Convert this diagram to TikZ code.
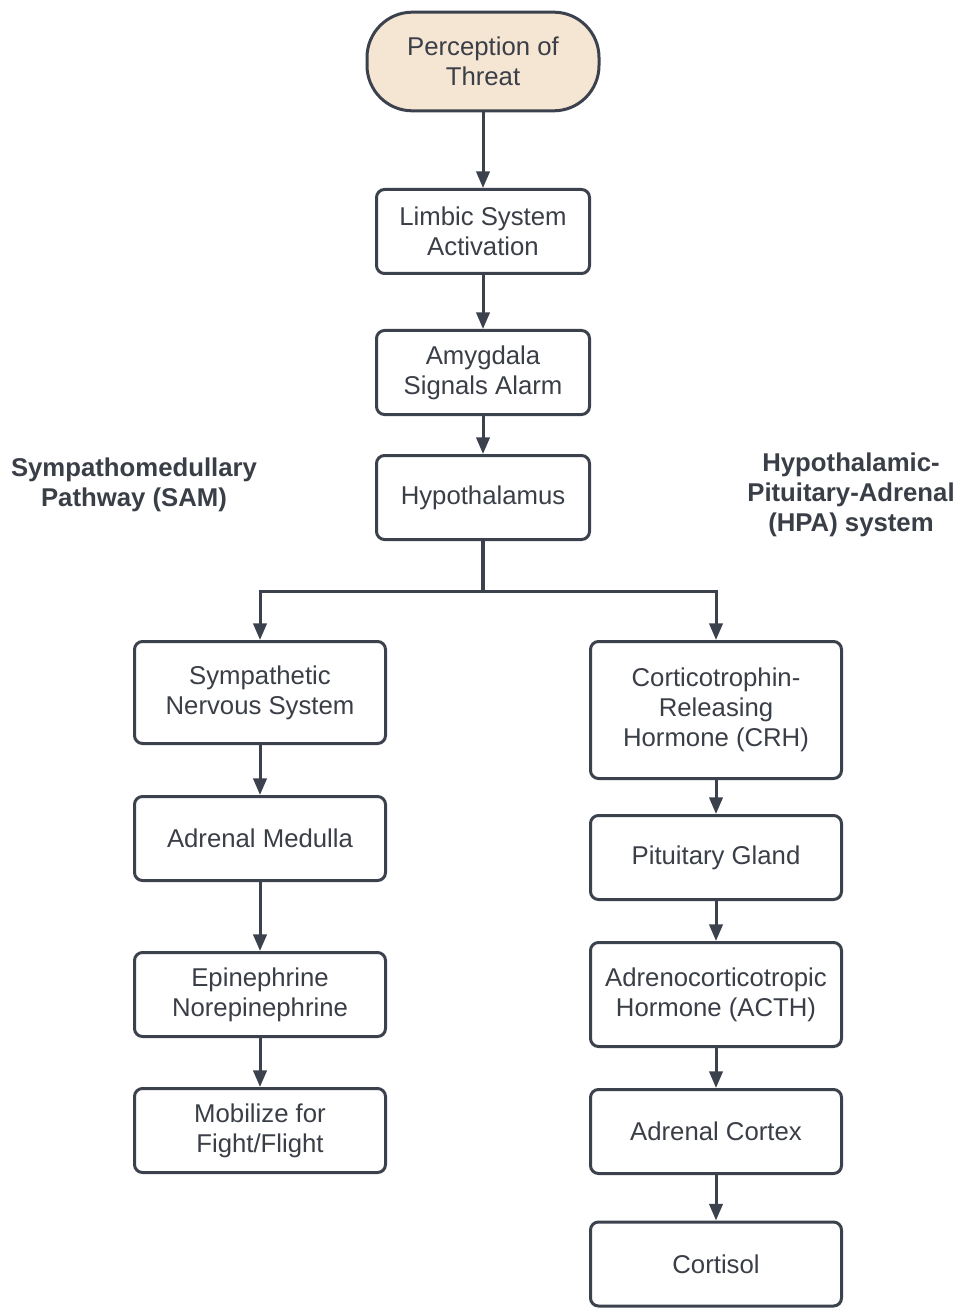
\documentclass[tikz,border=0pt]{standalone}
\usepackage{fontspec}
\setmainfont{Liberation Sans}
\usetikzlibrary{arrows.meta}
\definecolor{edge}{RGB}{60,66,77}
\definecolor{ink}{RGB}{58,62,70}
\definecolor{threat}{RGB}{245,229,211}
\begin{document}
\begin{tikzpicture}[x=0.75pt,y=-0.75pt,
  box/.style={draw=edge, line width=2.25pt, rounded corners=6pt, fill=white,
    text=ink, align=center, inner sep=0pt,
    font=\fontsize{19.3}{22.5}\selectfont},
  narrow/.style={box, minimum width=159.75pt},
  wide/.style={box, minimum width=188.25pt},
  flow/.style={draw=edge, line width=2.25pt, -{Triangle[length=12.5pt,width=10pt]}},
  group/.style={text=ink, align=center, inner sep=0pt,
    font=\bfseries\fontsize{19.3}{22.5}\selectfont}]
\useasboundingbox (0,0) rectangle (962,1308);

% central chain
\node[box, fill=threat, minimum width=174pt, minimum height=74pt,
  rounded corners=34pt] (threat) at (483,61.5) {Perception of\\Threat};
\node[narrow, minimum height=63pt] (limbic) at (483,231.5) {Limbic System\\Activation};
\node[narrow, minimum height=63pt] (amyg) at (483,372.5) {Amygdala\\Signals Alarm};
\node[narrow, minimum height=63pt] (hypo) at (483,497.5) {Hypothalamus};

% pathway titles
\node[group] (sam) at (134,485) {Sympathomedullary\\Pathway (SAM)};
\node[group] (hpa) at (851,495) {Hypothalamic-\\Pituitary-Adrenal\\(HPA) system};

% sympathomedullary branch
\node[wide, minimum height=76.5pt] (sns) at (260,692.5) {Sympathetic\\Nervous System};
\node[wide, minimum height=63pt] (medulla) at (260,838.5) {Adrenal Medulla};
\node[wide, minimum height=63pt] (epi) at (260,994.5) {Epinephrine\\Norepinephrine};
\node[wide, minimum height=63pt] (mob) at (260,1130.5) {Mobilize for\\Fight/Flight};

% HPA branch
\node[wide, minimum height=102.75pt] (crh) at (716,710) {Corticotrophin-\\Releasing\\Hormone (CRH)};
\node[wide, minimum height=63pt] (pit) at (716,857.5) {Pituitary Gland};
\node[wide, minimum height=78pt] (acth) at (716,994.5) {Adrenocorticotropic\\Hormone (ACTH)};
\node[wide, minimum height=63pt] (cortex) at (716,1131.5) {Adrenal Cortex};
\node[wide, minimum height=63pt] (cortisol) at (716,1264) {Cortisol};

% connectors
\draw[flow] (threat) -- (limbic);
\draw[flow] (limbic) -- (amyg);
\draw[flow] (amyg) -- (hypo);
\coordinate (split) at (483,591);
\draw[draw=edge, line width=3.4pt] (hypo.south) -- (split);
\draw[flow] (split) -| (sns.north);
\draw[flow] (split) -| (crh.north);
\draw[flow] (sns) -- (medulla);
\draw[flow] (medulla) -- (epi);
\draw[flow] (epi) -- (mob);
\draw[flow] (crh) -- (pit);
\draw[flow] (pit) -- (acth);
\draw[flow] (acth) -- (cortex);
\draw[flow] (cortex) -- (cortisol);
\end{tikzpicture}
\end{document}
